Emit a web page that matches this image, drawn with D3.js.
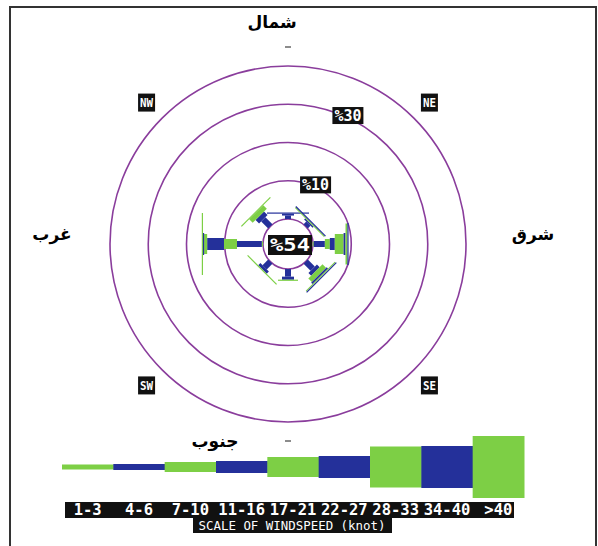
<!DOCTYPE html>
<html>
<head>
<meta charset="utf-8">
<script src="https://cdn.jsdelivr.net/npm/d3@7"></script>
<style>
  body { margin: 0; background: #fff; }
</style>
</head>
<body>
<div id="chart"></div>
<script>
// wind speed classes (knot) and the 8 directions
var speedLabels = ["1-3", "4-6", "7-10", "11-16", "17-21", "22-27", "28-33", "34-40", ">40"];
var directions = ["N", "NE", "E", "SE", "S", "SW", "W", "NW"];

// frequency (%) per speed class, one array per direction
var freqN  = [0, 0.9, 0, 0.5, 0, 0, 0, 0.3, 0];
var freqNE = [0, 1.0, 0, 0.4, 0, 0, 0.3, 0.3, 0];
var freqE  = [0.2, 2.9, 1.3, 1.3, 2.3, 0.5, 0.5, 0.3, 0];
var freqSE = [0, 2.6, 0, 1.0, 1.3, 0.5, 0.3, 0.3, 0];
var freqS  = [0, 2.0, 0, 0.8, 0.3, 0, 0, 0, 0];
var freqSW = [0, 2.1, 0, 0.8, 0, 0, 0.3, 0, 0];
var freqW  = [0.3, 6.5, 3.4, 4.4, 0.8, 0.3, 0, 0, 0.3];
var freqNW = [0, 2.6, 0, 1.3, 1.3, 0, 0.3, 0, 0];
var freqs = [freqN, freqNE, freqE, freqSE, freqS, freqSW, freqW, freqNW];

var calmPercent = 54;
var ringValues = [10, 20, 30, 40];
var ringLabelValues = [10, 30];
var cornerLabels = ["NE", "SE", "SW", "NW"];
var legendTitle = "SCALE OF WINDSPEED (knot)";

var width = 598, height = 546;
var cx = 288, cy = 244;
var green = "#7dcf45", blue = "#24309a", purple = "#8a3d9c";

var svg = d3.select("#chart").append("svg")
    .attr("width", width)
    .attr("height", height);

// frame
svg.append("rect")
    .attr("x", 10).attr("y", 7)
    .attr("width", 586).attr("height", 546)
    .attr("fill", "#fff")
    .attr("stroke", "#333")
    .attr("stroke-width", 2);

var r = d3.scaleLinear().domain([0, 40]).range([25, 178]);
var angle = d3.scalePoint().domain(directions).range([0, 315]);
var barWidth = d3.scaleOrdinal().domain(speedLabels).range([5, 6, 10, 12, 20, 22, 41, 42, 62]);
var barColor = d3.scaleOrdinal().domain(speedLabels)
    .range([green, blue, green, blue, green, blue, green, blue, green]);

var rose = svg.append("g").attr("transform", "translate(" + cx + "," + cy + ")");

// rings, calm circle first
rose.selectAll(".ring")
    .data([0].concat(ringValues))
  .enter().append("circle")
    .attr("class", "ring")
    .attr("r", function(d) { return r(d); })
    .attr("fill", "none")
    .attr("stroke", purple)
    .attr("stroke-width", 1.6);

// bars
directions.forEach(function(dir, i) {
  var cum = 0;
  var g = rose.append("g").attr("transform", "rotate(" + angle(dir) + ")");
  freqs[i].forEach(function(v, k) {
    if (v <= 0) return;
    var r0 = r(cum), r1 = r(cum + v);
    cum += v;
    var w = barWidth(speedLabels[k]);
    g.append("rect")
        .attr("x", -w / 2)
        .attr("y", -r1)
        .attr("width", w)
        .attr("height", Math.max(r1 - r0, 1.2))
        .attr("fill", barColor(speedLabels[k]));
  });
});

// N / S tick marks
["N", "S"].forEach(function(dir) {
  rose.append("line")
      .attr("transform", "rotate(" + angle(dir) + ")")
      .attr("x1", -3).attr("x2", 3)
      .attr("y1", -197).attr("y2", -197)
      .attr("stroke", "#666")
      .attr("stroke-width", 1.5);
});

// box label helper
function boxLabel(parent, x, y, w, h, txt, size) {
  parent.append("rect")
      .attr("x", x - w / 2).attr("y", y - h / 2)
      .attr("width", w).attr("height", h)
      .attr("fill", "#111");
  parent.append("text")
      .attr("x", x).attr("y", y)
      .attr("dy", "0.36em")
      .attr("text-anchor", "middle")
      .attr("fill", "#fff")
      .style("font-family", "'DejaVu Sans Mono', monospace")
      .style("font-weight", "bold")
      .style("font-size", size + "px")
      .attr("textLength", w - 4)
      .attr("lengthAdjust", "spacingAndGlyphs")
      .text(txt);
}

// calm label
boxLabel(rose, 2, 1, 44, 20, "%" + calmPercent, 17);

// ring labels, 25 degrees right of north
ringLabelValues.forEach(function(v) {
  var a = 25 * Math.PI / 180, rr = r(v) + 2;
  boxLabel(rose, rr * Math.sin(a), -rr * Math.cos(a), 31, 17, "%" + v, 15);
});

// corner labels
cornerLabels.forEach(function(d) {
  var a = angle(d) * Math.PI / 180, rr = 200;
  boxLabel(rose, rr * Math.sin(a), -rr * Math.cos(a), 17, 18, d, 13);
});

// arabic cardinal labels
var arabic = svg.append("g")
    .style("font-family", "'DejaVu Sans', sans-serif")
    .style("font-weight", "bold")
    .style("font-size", "17px")
    .attr("text-anchor", "middle");
arabic.append("text").attr("x", 272).attr("y", 28).text("شمال");
arabic.append("text").attr("x", 533).attr("y", 240).text("شرق");
arabic.append("text").attr("x", 215).attr("y", 447).text("جنوب");
arabic.append("text").attr("x", 52).attr("y", 240).text("غرب");

// legend
var lx = d3.scaleBand().domain(speedLabels).range([62, 524]);
var ly = 467;
svg.selectAll(".legbar")
    .data(speedLabels)
  .enter().append("rect")
    .attr("class", "legbar")
    .attr("x", function(d) { return lx(d); })
    .attr("y", function(d) { return ly - barWidth(d) / 2; })
    .attr("width", lx.bandwidth() + 0.5)
    .attr("height", function(d) { return barWidth(d); })
    .attr("fill", function(d) { return barColor(d); });

svg.append("rect")
    .attr("x", 65).attr("y", 502)
    .attr("width", 449).attr("height", 16)
    .attr("fill", "#111");
svg.selectAll(".leglab")
    .data(speedLabels)
  .enter().append("text")
    .attr("class", "leglab")
    .attr("x", function(d) { return lx(d) + lx.bandwidth() / 2; })
    .attr("y", 515)
    .attr("text-anchor", "middle")
    .attr("fill", "#fff")
    .style("font-family", "'DejaVu Sans Mono', monospace")
    .style("font-weight", "bold")
    .style("font-size", "15.5px")
    .text(function(d) { return d; });

svg.append("rect")
    .attr("x", 193).attr("y", 518)
    .attr("width", 199).attr("height", 15)
    .attr("fill", "#111");
svg.append("text")
    .attr("x", 292).attr("y", 530)
    .attr("text-anchor", "middle")
    .attr("fill", "#fff")
    .style("font-family", "'DejaVu Sans Mono', monospace")
    .style("font-size", "12px")
    .attr("textLength", 187)
    .attr("lengthAdjust", "spacingAndGlyphs")
    .text(legendTitle);
</script>
</body>
</html>
